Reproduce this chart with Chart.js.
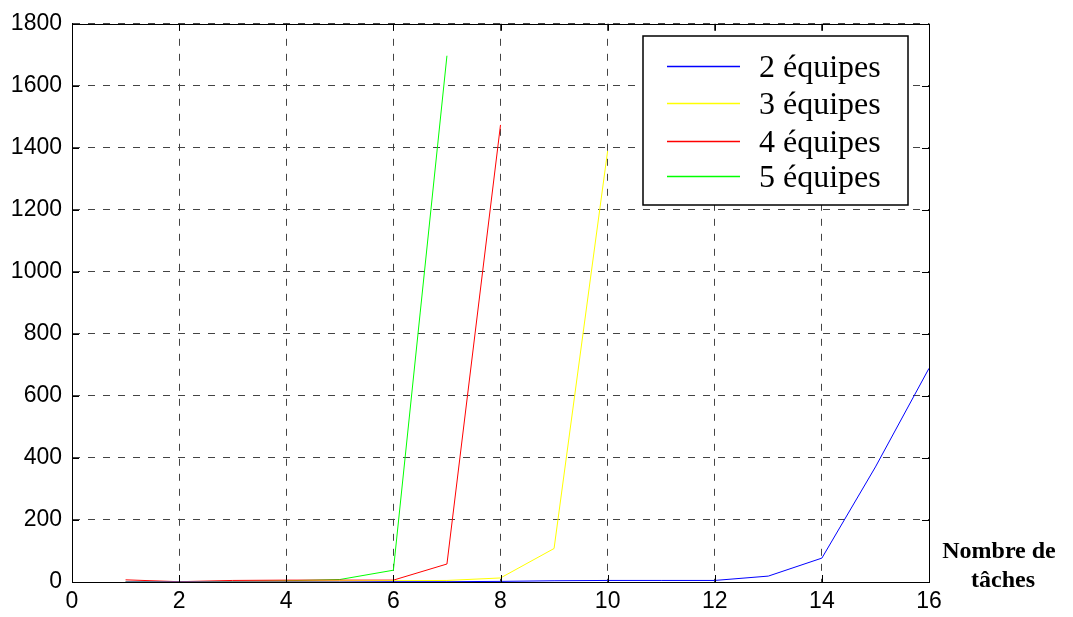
<!DOCTYPE html>
<html>
<head>
<meta charset="utf-8">
<script src="https://cdn.jsdelivr.net/npm/chart.js@4"></script>
<style>
html,body{margin:0;padding:0;background:#fff;}
#wrap{width:1073px;height:617px;position:relative;}
</style>
</head>
<body>
<div id="wrap"><canvas id="c"></canvas></div>
<script>
// Data
const seriesLabels = ["2 équipes", "3 équipes", "4 équipes", "5 équipes"];
const seriesColors = ["#0000ff", "#ffff00", "#ff0000", "#00ff00"];
const blueValues   = [0, 0, 0, 0, 0, 1, 1, 2, 4, 5, 5, 5, 19, 77, 371, 689];   // 2 équipes, x = 1..16
const yellowValues = [0, 0, 1, 2, 3, 4, 5, 13, 108, 1390];                     // 3 équipes, x = 1..10
const redValues    = [7, 1, 5, 6, 6, 6, 58, 1474];                              // 4 équipes, x = 1..8
const greenValues  = [0, 1, 2, 4, 8, 38, 1697];                                 // 5 équipes, x = 1..7
const xTicks = [0, 2, 4, 6, 8, 10, 12, 14, 16];
const yTicks = [0, 200, 400, 600, 800, 1000, 1200, 1400, 1600, 1800];
const xTitleLines = ["Nombre de", "tâches"];

const allValues = [blueValues, yellowValues, redValues, greenValues];
const datasets = allValues.map((vals, i) => ({
  label: seriesLabels[i],
  data: vals.map((v, k) => ({x: k + 1, y: v})),
  borderColor: seriesColors[i],
  backgroundColor: seriesColors[i],
  borderWidth: 1,
  pointRadius: 0,
  fill: false,
  tension: 0
}));

const frame = {
  id: 'frame',
  afterDraw(chart) {
    const ctx = chart.ctx;
    const a = chart.chartArea;
    const xs = chart.scales.x, ys = chart.scales.y;
    ctx.save();
    ctx.strokeStyle = '#000';
    ctx.lineWidth = 1;
    ctx.setLineDash([]);
    // inner ticks
    ctx.beginPath();
    const tl = 7;
    xTicks.forEach(t => {
      const px = Math.round(xs.getPixelForValue(t)) + 0.5;
      ctx.moveTo(px, a.bottom); ctx.lineTo(px, a.bottom - tl);
      ctx.moveTo(px, a.top); ctx.lineTo(px, a.top + tl);
    });
    yTicks.forEach(t => {
      const py = Math.round(ys.getPixelForValue(t)) + 0.5;
      ctx.moveTo(a.left, py); ctx.lineTo(a.left + tl, py);
      ctx.moveTo(a.right, py); ctx.lineTo(a.right - tl, py);
    });
    ctx.stroke();
    // box
    ctx.strokeRect(Math.round(a.left) + 0.5, Math.round(a.top) + 0.5,
                   Math.round(a.right - a.left), Math.round(a.bottom - a.top));

    // legend
    const lx = 643, ly = 36, lw = 265, lh = 169;
    ctx.fillStyle = '#fff';
    ctx.fillRect(lx, ly, lw, lh);
    ctx.lineWidth = 1.5;
    ctx.strokeRect(lx, ly, lw, lh);
    const rows = [66, 103, 141, 176];
    ctx.font = '32px "Liberation Serif", "Times New Roman", serif';
    ctx.textBaseline = 'alphabetic';
    ctx.textAlign = 'left';
    seriesLabels.forEach((lab, i) => {
      ctx.strokeStyle = seriesColors[i];
      ctx.lineWidth = 1.5;
      ctx.beginPath();
      ctx.moveTo(667, rows[i] + 0.5);
      ctx.lineTo(740, rows[i] + 0.5);
      ctx.stroke();
      ctx.fillStyle = '#000';
      ctx.fillText(lab, 759, rows[i] + 10.5);
    });

    // x axis title
    ctx.font = 'bold 24px "Liberation Serif", "Times New Roman", serif';
    ctx.textAlign = 'center';
    ctx.fillStyle = '#000';
    ctx.fillText(xTitleLines[0], 999, 558);
    ctx.fillText(xTitleLines[1], 1003, 587);
    ctx.restore();
  }
};

new Chart(document.getElementById('c'), {
  type: 'line',
  data: { datasets },
  options: {
    responsive: true,
    maintainAspectRatio: false,
    animation: false,
    layout: { padding: { left: 0, top: 18, right: 144, bottom: 0 } },
    plugins: { legend: { display: false }, tooltip: { enabled: false } },
    scales: {
      x: {
        type: 'linear', min: 0, max: 16,
        afterBuildTicks: s => { s.ticks = xTicks.map(v => ({value: v})); },
        afterFit: s => { s.height = 35; },
        ticks: { color: '#000', padding: 6, maxRotation: 0,
                 callback: v => String(v),
                 font: { family: '"Liberation Sans", Arial, sans-serif', size: 23 } },
        grid: { color: '#444', lineWidth: 1, drawTicks: false, tickLength: 0 },
        border: { display: true, color: '#000', width: 1, dash: [7, 8] }
      },
      y: {
        type: 'linear', min: 0, max: 1800,
        afterBuildTicks: s => { s.ticks = yTicks.map(v => ({value: v})); },
        afterFit: s => { s.width = 72; },
        ticks: { color: '#000', padding: 10,
                 callback: v => String(v),
                 font: { family: '"Liberation Sans", Arial, sans-serif', size: 23 } },
        grid: { color: '#444', lineWidth: 1, drawTicks: false, tickLength: 0 },
        border: { display: true, color: '#000', width: 1, dash: [7, 8] }
      }
    }
  },
  plugins: [frame]
});
</script>
</body>
</html>
